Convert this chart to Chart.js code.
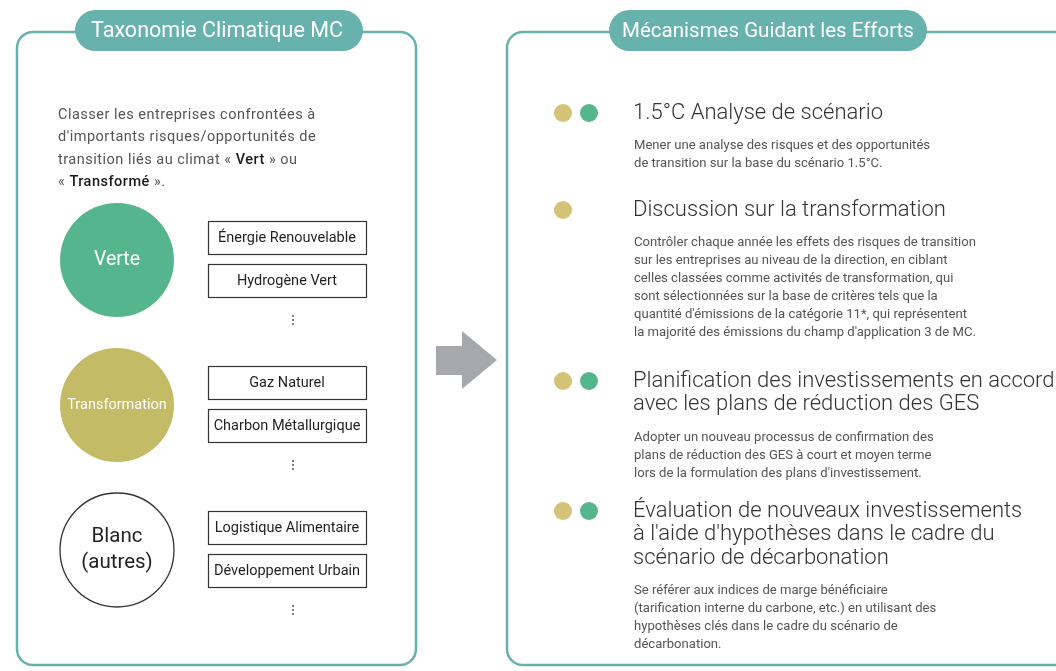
<!DOCTYPE html>
<html>
<head>
<meta charset="utf-8">
<script src="https://cdn.jsdelivr.net/npm/chart.js@4.4.1/dist/chart.umd.min.js"></script>
<style>
  html, body { margin: 0; padding: 0; background: #ffffff; }
  #wrap { width: 1056px; height: 671px; }
</style>
</head>
<body>
<div id="wrap"><canvas id="diagram" width="1056" height="671"></canvas></div>
<script>
// Panel titles
const leftTitle = 'Taxonomie Climatique MC';
const rightTitle = 'Mécanismes Guidant les Efforts';

// Intro text of the left panel (segments with emphasis)
const introLines = [
  [['Classer les entreprises confrontées à', false]],
  [["d'importants risques/opportunités de", false]],
  [['transition liés au climat « ', false], ['Vert', true], [' » ou', false]],
  [['« ', false], ['Transformé', true], [' ».', false]]
];

// Categories (circles) and their example sectors
const categories = [['Verte'], ['Transformation'], ['Blanc', '(autres)']];
const categoryFill = ['#55b68e', '#c4bb67', '#ffffff'];
const categoryText = ['#ffffff', '#ffffff', '#231f20'];
const sectors = [
  ['Énergie Renouvelable', 'Hydrogène Vert'],
  ['Gaz Naturel', 'Charbon Métallurgique'],
  ['Logistique Alimentaire', 'Développement Urbain']
];

// Mechanisms on the right
const mechanismTitles = [
  ['1.5°C Analyse de scénario'],
  ['Discussion sur la transformation'],
  ['Planification des investissements en accord', 'avec les plans de réduction des GES'],
  ['Évaluation de nouveaux investissements', "à l'aide d'hypothèses dans le cadre du", 'scénario de décarbonation']
];
const mechanismText = [
  ['Mener une analyse des risques et des opportunités',
   'de transition sur la base du scénario 1.5°C.'],
  ['Contrôler chaque année les effets des risques de transition',
   'sur les entreprises au niveau de la direction, en ciblant',
   'celles classées comme activités de transformation, qui',
   'sont sélectionnées sur la base de critères tels que la',
   "quantité d'émissions de la catégorie 11*, qui représentent",
   "la majorité des émissions du champ d'application 3 de MC."],
  ['Adopter un nouveau processus de confirmation des',
   'plans de réduction des GES à court et moyen terme',
   "lors de la formulation des plans d'investissement."],
  ['Se référer aux indices de marge bénéficiaire',
   '(tarification interne du carbone, etc.) en utilisant des',
   'hypothèses clés dans le cadre du scénario de',
   'décarbonation.']
];
// which categories each mechanism targets: T = Transformation, V = Verte
const mechanismTargets = [['T', 'V'], ['T'], ['T', 'V'], ['T', 'V']];

// Layout
const W = 1056, H = 671;
const teal = '#67b2ad';
const circleX = 117, circleTop = 260, circleStep = 145, circleR = 57;
const boxX = 208, boxW = 158, boxH = 33;
const itemTop = [113, 210, 381, 511];
const dotX = { T: 563, V: 589 };
const dotColor = { T: '#d4c277', V: '#55b68e' };
const FONT = 'Roboto, "Noto Sans", "DejaVu Sans", sans-serif';

const circlePoints = categories.map((c, i) => ({ x: circleX, y: circleTop + i * circleStep }));
const dotPoints = [];
const dotColors = [];
mechanismTargets.forEach((t, i) => {
  t.forEach(k => {
    dotPoints.push({ x: dotX[k], y: itemTop[i] });
    dotColors.push(dotColor[k]);
  });
});

function roundRect(ctx, x, y, w, h, r) {
  ctx.beginPath();
  ctx.moveTo(x + r, y);
  ctx.lineTo(x + w - r, y);
  ctx.arcTo(x + w, y, x + w, y + r, r);
  ctx.lineTo(x + w, y + h - r);
  ctx.arcTo(x + w, y + h, x + w - r, y + h, r);
  ctx.lineTo(x + r, y + h);
  ctx.arcTo(x, y + h, x, y + h - r, r);
  ctx.lineTo(x, y + r);
  ctx.arcTo(x, y, x + r, y, r);
  ctx.closePath();
}

const decor = {
  id: 'decor',
  beforeDatasetsDraw(chart) {
    const ctx = chart.ctx;
    const sx = v => chart.scales.x.getPixelForValue(v);
    const sy = v => chart.scales.y.getPixelForValue(v);
    ctx.save();

    // panels
    ctx.strokeStyle = teal;
    ctx.lineWidth = 2.5;
    roundRect(ctx, sx(17), sy(32), sx(416) - sx(17), sy(665) - sy(32), 16);
    ctx.stroke();
    roundRect(ctx, sx(507), sy(32), sx(1090) - sx(507), sy(665) - sy(32), 16);
    ctx.stroke();

    // title pills
    ctx.fillStyle = teal;
    roundRect(ctx, sx(75), sy(10), 288, 41, 20.5);
    ctx.fill();
    roundRect(ctx, sx(609), sy(10), 318, 41, 20.5);
    ctx.fill();
    ctx.fillStyle = '#ffffff';
    ctx.textAlign = 'center';
    ctx.textBaseline = 'middle';
    ctx.font = '21.5px ' + FONT;
    ctx.fillText(leftTitle, sx(217), sy(32));
    ctx.font = '20.5px ' + FONT;
    ctx.fillText(rightTitle, sx(768), sy(32));

    // intro text
    ctx.textAlign = 'left';
    ctx.letterSpacing = '0.5px';
    introLines.forEach((segs, i) => {
      let x = sx(58);
      const y = sy(115 + i * 22.5);
      segs.forEach(([t, strong]) => {
        ctx.fillStyle = strong ? '#1a1a1a' : '#555555';
        ctx.font = (strong ? '500 ' : '') + '14.5px ' + FONT;
        ctx.fillText(t, x, y);
        x += ctx.measureText(t).width;
      });
    });
    ctx.letterSpacing = '0px';

    // sector boxes and ellipses
    sectors.forEach((list, i) => {
      const cy = circleTop + i * circleStep;
      list.forEach((s, j) => {
        const top = cy - 39 + j * 43;
        ctx.fillStyle = '#ffffff';
        ctx.fillRect(sx(boxX), sy(top), boxW, boxH);
        ctx.strokeStyle = '#333333';
        ctx.lineWidth = 1.2;
        ctx.strokeRect(sx(boxX) + 0.5, sy(top) + 0.5, boxW, boxH);
        ctx.fillStyle = '#231f20';
        let size = 14.5;
        ctx.font = size + 'px ' + FONT;
        while (ctx.measureText(s).width > boxW - 8 && size > 10) {
          size -= 0.5;
          ctx.font = size + 'px ' + FONT;
        }
        ctx.textAlign = 'center';
        ctx.fillText(s, sx(boxX + boxW / 2), sy(top + boxH / 2 + 1));
      });
      ctx.fillStyle = '#555555';
      [-4, 0, 4].forEach(d => {
        ctx.beginPath();
        ctx.arc(sx(293), sy(cy + 60 + d), 1, 0, Math.PI * 2);
        ctx.fill();
      });
    });

    // arrow
    ctx.fillStyle = '#a7a8ab';
    ctx.beginPath();
    ctx.moveTo(sx(436), sy(346));
    ctx.lineTo(sx(462), sy(346));
    ctx.lineTo(sx(462), sy(331));
    ctx.lineTo(sx(497), sy(360));
    ctx.lineTo(sx(462), sy(389));
    ctx.lineTo(sx(462), sy(375));
    ctx.lineTo(sx(436), sy(375));
    ctx.closePath();
    ctx.fill();

    // mechanisms text
    ctx.textAlign = 'left';
    mechanismTitles.forEach((lines, i) => {
      let y = itemTop[i];
      ctx.fillStyle = '#333333';
      ctx.font = '300 22px ' + FONT;
      lines.forEach((l, k) => {
        ctx.fillText(l, sx(633), sy(y));
        if (k < lines.length - 1) y += 23.5;
      });
      y += 33;
      ctx.fillStyle = '#555555';
      ctx.font = '13.1px ' + FONT;
      mechanismText[i].forEach(l => {
        ctx.fillText(l, sx(634), sy(y));
        y += 18;
      });
    });
    ctx.restore();
  },
  afterDatasetsDraw(chart) {
    const ctx = chart.ctx;
    const sx = v => chart.scales.x.getPixelForValue(v);
    const sy = v => chart.scales.y.getPixelForValue(v);
    ctx.save();
    ctx.textAlign = 'center';
    ctx.textBaseline = 'middle';
    categories.forEach((lines, i) => {
      const p = circlePoints[i];
      ctx.fillStyle = categoryText[i];
      const size = lines[0].length > 10 ? 17 : (lines.length > 1 ? 20.5 : 19.5);
      ctx.font = size + 'px ' + FONT;
      let y = p.y - (lines.length - 1) * 13;
      lines.forEach(l => {
        let fs = size;
        while (ctx.measureText(l).width > 2 * circleR - 12 && fs > 10) {
          fs -= 0.5;
          ctx.font = fs + 'px ' + FONT;
        }
        ctx.fillText(l, sx(p.x), sy(y));
        y += 26;
      });
    });
    ctx.restore();
  }
};

new Chart(document.getElementById('diagram'), {
  type: 'scatter',
  data: {
    datasets: [
      {
        label: 'Catégories',
        data: circlePoints,
        pointRadius: circleR,
        pointHoverRadius: circleR,
        pointBackgroundColor: categoryFill,
        pointBorderColor: ['#55b68e', '#c4bb67', '#333333'],
        pointBorderWidth: [0, 0, 1.3],
        clip: false
      },
      {
        label: 'Mécanismes',
        data: dotPoints,
        pointRadius: 9,
        pointHoverRadius: 9,
        pointBackgroundColor: dotColors,
        pointBorderWidth: 0,
        clip: false
      }
    ]
  },
  options: {
    responsive: false,
    animation: false,
    events: [],
    devicePixelRatio: 1,
    layout: { padding: 0, autoPadding: false },
    plugins: { legend: { display: false }, tooltip: { enabled: false } },
    scales: {
      x: { type: 'linear', min: 0, max: W, display: false },
      y: { type: 'linear', min: 0, max: H, reverse: true, display: false }
    }
  },
  plugins: [decor]
});
</script>
</body>
</html>
